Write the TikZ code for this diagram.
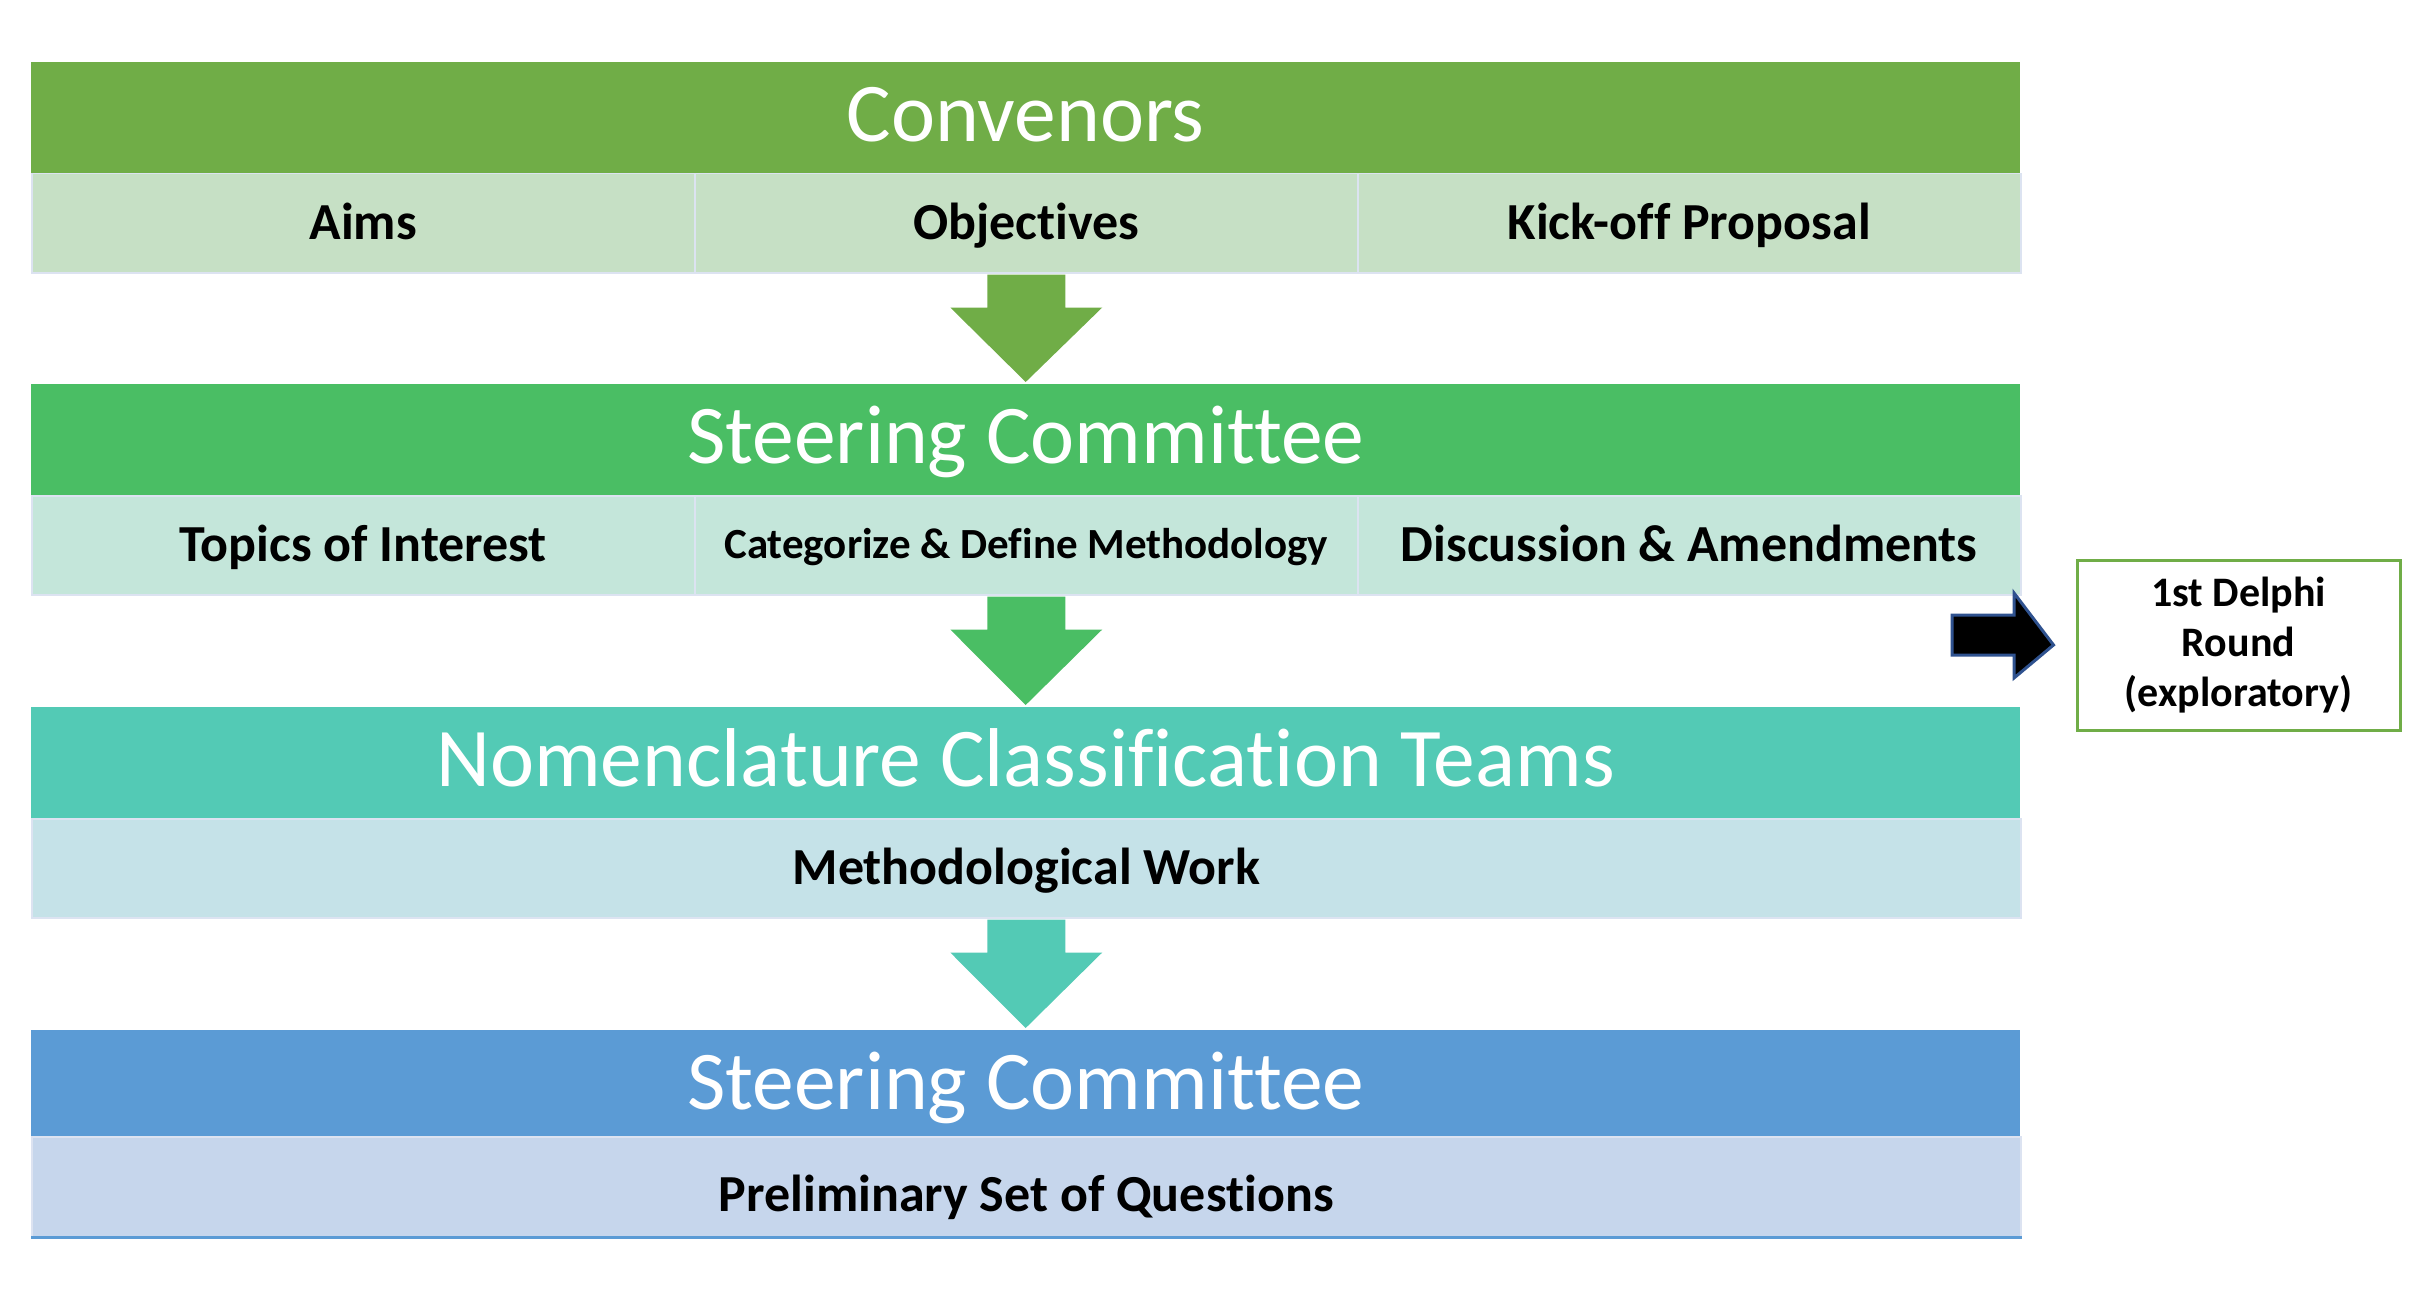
\documentclass[tikz,border=0pt]{standalone}
\usepackage{fontspec}
\setmainfont{Carlito}[Ligatures={NoCommon}]
\usetikzlibrary{calc}
\definecolor{cGreenA}{HTML}{70AD47}
\definecolor{cGreenAL}{HTML}{C6E0C5}
\definecolor{cGreenB}{HTML}{4ABE64}
\definecolor{cGreenBL}{HTML}{C4E6DA}
\definecolor{cTeal}{HTML}{53CAB5}
\definecolor{cTealL}{HTML}{C5E2E8}
\definecolor{cBlue}{HTML}{5B9BD5}
\definecolor{cBlueL}{HTML}{C6D6EC}
\definecolor{cCellLine}{HTML}{DCE3F1}
\definecolor{cArrowLine}{HTML}{2F528F}
\tikzset{
  hdr/.style={anchor=north west, inner sep=0pt, minimum width=1989pt, minimum height=111pt,
    text=white, font=\fontsize{83.5}{95}\selectfont, text height=53pt, text depth=5pt},
  subtext/.style={inner sep=0pt, minimum height=99pt, draw=cCellLine, line width=1.5pt,
    font=\bfseries\fontsize{52}{60}\selectfont, text height=33pt, text depth=0pt},
  subfull/.style={subtext, anchor=north west, minimum width=1989pt},
  subcell/.style={subtext, anchor=north west, minimum width=663pt},
  sidebox/.style={draw=cGreenA, line width=3pt, fill=white, minimum width=323pt, minimum height=170pt,
    inner sep=0pt, align=center, font=\bfseries\fontsize{42}{50}\selectfont},
}
\newcommand{\blockarrowdown}[3]{% from node (south), to node (north), colour
  \fill[#3] let \p1=(#1.south), \p2=(#2.north) in
    (\x1-39,\y1-1) -- (\x1+39,\y1-1) -- (\x1+39,\y1-34) -- (\x1+76,\y1-34)
    -- (\x2,\y2+2) -- (\x1-76,\y1-34) -- (\x1-39,\y1-34) -- cycle;
}
\begin{document}
\begin{tikzpicture}[x=1pt,y=-1pt]
\useasboundingbox (0,0) rectangle (2420,1300);
% Row 1
\node[hdr, fill=cGreenA] (h1) at (31,62) {Convenors};
\node[subcell, fill=cGreenAL] (s1a) at (31,173) {Aims};
\node[subcell, fill=cGreenAL] (s1b) at (694,173) {Objectives};
\node[subcell, fill=cGreenAL] (s1c) at (1357,173) {Kick-off Proposal};
% Row 2
\node[hdr, fill=cGreenB] (h2) at (31,384) {Steering Committee};
\node[subcell, fill=cGreenBL] (s2a) at (31,495) {Topics of Interest};
\node[subcell, fill=cGreenBL, font=\bfseries\fontsize{43}{50}\selectfont, text height=27pt] (s2b) at (694,495) {Categorize \& Define Methodology};
\node[subcell, fill=cGreenBL] (s2c) at (1357,495) {Discussion \& Amendments};
% Row 3
\node[hdr, fill=cTeal] (h3) at (31,707) {Nomenclature Classification Teams};
\node[subfull, fill=cTealL] (s3) at (31,818) {Methodological Work};
% Row 4
\node[hdr, fill=cBlue] (h4) at (31,1030) {Steering Committee};
\node[subfull, fill=cBlueL, minimum height=100pt, text height=49pt] (s4) at (31,1136) {Preliminary Set of Questions};
\draw[cBlue, line width=2.5pt] (s4.south west) -- (s4.south east);
% Down arrows
\blockarrowdown{s1b}{h2}{cGreenA}
\blockarrowdown{s2b}{h3}{cGreenB}
\blockarrowdown{s3}{h4}{cTeal}
% Side box
\node[sidebox] (delphi) at (2238.5,645) {1st Delphi\\Round\\(exploratory)};
\coordinate (arrowtail) at (1952,635);
\filldraw[fill=black, draw=cArrowLine, line width=3pt, line join=miter]
  let \p1=(arrowtail), \p2=(delphi.west) in
  (\x1,\y1-20) -- (2014,\y1-20) -- (2014,\y1-43) -- (\x2-22,\y2)
  -- (2014,\y1+42) -- (2014,\y1+20) -- (\x1,\y1+20) -- cycle;
\end{tikzpicture}
\end{document}
